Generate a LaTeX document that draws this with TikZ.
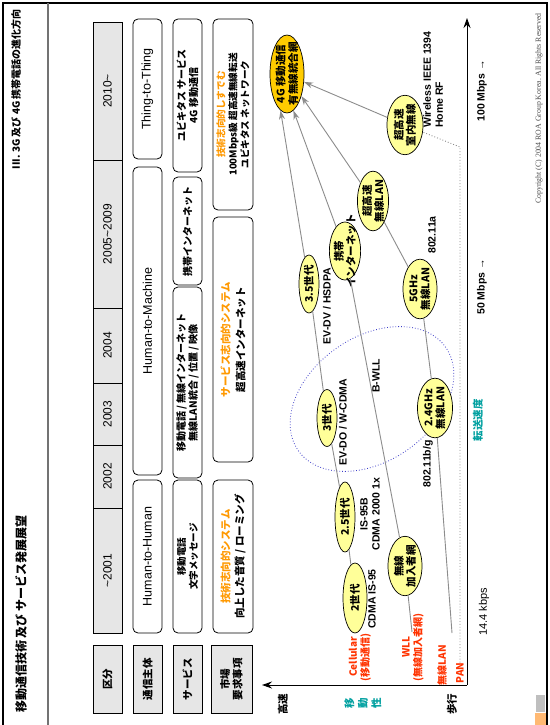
\documentclass[tikz,border=0pt]{standalone}
\usepackage{fontspec}
\setmainfont{Liberation Sans}
\newfontfamily\jp{Noto Sans CJK JP}
\newfontfamily\serifcr{Liberation Serif}
\usetikzlibrary{shapes.geometric,arrows.meta}

\definecolor{hdrgray}{HTML}{E6E6E6}
\definecolor{genyellow}{HTML}{FFFF99}
\definecolor{gold}{HTML}{FFCC00}
\definecolor{linkgray}{HTML}{8C8C8C}
\definecolor{netred}{HTML}{FF3300}
\definecolor{techorange}{HTML}{FF9900}
\definecolor{tealc}{HTML}{00A0A0}
\definecolor{dotblue}{HTML}{3C3CC8}

\newcommand\fsz[2]{\fontsize{#1pt}{#2pt}\selectfont}

\tikzset{
  hdr/.style={draw, line width=0.8pt, fill=hdrgray, rotate=90, inner sep=0pt, align=center,
    font=\jp\bfseries\fsz{10.5}{12.5}},
  yearcell/.style={draw, line width=0.8pt, fill=hdrgray, rotate=90, inner sep=0pt,
    minimum height=29pt, font=\fsz{12}{14}},
  cell/.style={draw, line width=0.8pt, rounded corners=5pt, fill=white, rotate=90,
    inner sep=0pt, align=center},
  gen/.style={draw, line width=0.7pt, ellipse, fill=genyellow, rotate=90, inner sep=0pt,
    align=center, font=\jp\bfseries\fsz{10.5}{12}},
  link/.style={draw=linkgray, line width=0.9pt},
  tip/.style={-{Stealth[length=9pt,width=6pt]}},
  lbl/.style={rotate=90, inner sep=0pt, align=center, font=\bfseries\fsz{10.5}{12}},
  netlbl/.style={rotate=90, inner sep=0pt, align=center, text=netred,
    font=\jp\bfseries\fsz{10}{12}},
  axislbl/.style={rotate=90, inner sep=0pt, align=center, font=\jp\bfseries\fsz{10.5}{13}},
  speed/.style={rotate=90, inner sep=0pt, font=\fsz{11}{13}},
}

\begin{document}
\begin{tikzpicture}[x=1pt,y=-1pt]
\useasboundingbox (0,0) rectangle (549,725);
\fill[white] (0,0) rectangle (549,725);

% page frame and title band
\draw[line width=2.5pt] (3,725) -- (3,3) -- (547,3) -- (547,725);
\draw[black!55, line width=1.2pt] (48,3) -- (48,725);

\node[rotate=90, anchor=east, inner sep=0pt, font=\jp\bfseries\fsz{10}{12}] (title3g) at (16,9)
  {III. 3G 及び 4G 携帯電話の進化方向};
\node[rotate=90, anchor=west, inner sep=0pt, font=\jp\bfseries\fsz{12}{14}] (titlemain) at (21,713)
  {移動通信技術 及び サービス発展展望};

% row headers
\node[hdr, minimum width=68pt, minimum height=29pt] (hkubun) at (107.5,679) {区分};
\node[hdr, minimum width=68pt, minimum height=29pt] (hsubj) at (147.5,679) {通信主体};
\node[hdr, minimum width=68pt, minimum height=29pt] (hserv) at (187.5,679) {サービス};
\node[hdr, minimum width=68pt, minimum height=41pt] (hmkt) at (231.5,679) {市場\\要求事項};

% period cells
\node[yearcell, minimum width=125pt] (y2001) at (107.5,570.5) {\textasciitilde2001};
\node[yearcell, minimum width=63pt] (y2002) at (107.5,476.5) {2002};
\node[yearcell, minimum width=62pt] (y2003) at (107.5,414) {2003};
\node[yearcell, minimum width=75pt] (y2004) at (107.5,345.5) {2004};
\node[yearcell, minimum width=148pt] (y2005) at (107.5,234) {2005\textasciitilde2009};
\node[yearcell, minimum width=138pt] (y2010) at (107.5,91) {2010\textasciitilde};

% communication subjects
\node[cell, minimum width=153pt, minimum height=29pt, font=\fsz{12.5}{14}] (hh) at (147.5,556.5) {Human-to-Human};
\node[cell, minimum width=308pt, minimum height=29pt, font=\fsz{12.5}{14}] (hm) at (147.5,321) {Human-to-Machine};
\node[cell, minimum width=140pt, minimum height=29pt, font=\fsz{12.5}{14}] (tt) at (147.5,89) {Thing-to-Thing};

% services
\node[cell, minimum width=153pt, minimum height=29pt, font=\jp\bfseries\fsz{9.5}{12}] (s1) at (187.5,556.5)
  {移動電話\\文字メッセージ};
\node[cell, minimum width=191pt, minimum height=29pt, font=\jp\bfseries\fsz{10}{12}] (s2) at (187.5,382.5)
  {移動電話 / 無線インターネット\\無線LAN統合 / 位置 / 映像};
\node[cell, minimum width=108pt, minimum height=29pt, font=\jp\bfseries\fsz{10}{12}] (s3) at (187.5,231)
  {携帯インターネット};
\node[cell, minimum width=153pt, minimum height=29pt, font=\jp\bfseries\fsz{10}{12}] (s4) at (187.5,95.5)
  {ユビキタス\ サービス\\4G 移動通信};

% market requirements
\node[cell, minimum width=153pt, minimum height=40pt, font=\jp\bfseries\fsz{10.5}{14}] (m1) at (233,556.5)
  {\textcolor{techorange}{技術志向的システム}\\向上した音質 / ローミング};
\node[cell, minimum width=245pt, minimum height=40pt, font=\jp\bfseries\fsz{10.5}{15}] (m2) at (233,339.5)
  {\textcolor{techorange}{サービス志向的システム}\\超高速インターネット};
\node[cell, minimum width=191pt, minimum height=40pt, font=\jp\bfseries\fsz{9.6}{12}] (m3) at (233,114.5)
  {\textcolor{techorange}{技術志向的しすでむ}\\100Mbps級 超高速無線転送\\ユビキタス\ ネットワーク};

% axes
\coordinate (origin) at (467,685);
\coordinate (vtop) at (467,18);
\coordinate (hleft) at (262,685);
\draw[line width=1pt, -{Stealth[length=10pt,width=7pt]}] (origin) -- (vtop);
\draw[line width=1pt, -{Stealth[length=10pt,width=7pt]}] (origin) -- (hleft);

\node[axislbl] (fast) at (283,704) {高速};
\node[axislbl, text=tealc, font=\jp\bfseries\fsz{10.5}{13.5}] (mobility) at (363,703) {移\\動\\性};
\node[axislbl] (walk) at (452,704) {歩行};
\node[axislbl, text=tealc] (rate) at (478,420) {転送速度};
\node[speed] (k144) at (484,612) {14.4 kbps};
\node[speed, font=\bfseries\fsz{10.5}{13}] (m50) at (482,287) {50 Mbps →};
\node[speed, font=\bfseries\fsz{10.5}{13}] (m100) at (482,91) {100 Mbps →};

% generation range ring
\node[draw=dotblue, dotted, line width=0.8pt, ellipse, rotate=35, minimum width=180pt,
  minimum height=124pt] (ring) at (372,399) {};

% technology nodes
\node[gen, fill=gold, minimum width=78pt, minimum height=34pt, font=\jp\bfseries\fsz{10.5}{12.5}] (g4) at (287,74)
  {\makebox[0pt]{4G 移動通信}\\\makebox[0pt]{有無線統合網}};
\node[gen, minimum width=58pt, minimum height=20pt] (n35) at (309,284) {3.5世代};
\node[gen, minimum width=57pt, minimum height=20pt] (n3) at (327,418) {3世代};
\node[gen, minimum width=70pt, minimum height=20pt] (n25) at (345,517) {2.5世代};
\node[gen, minimum width=70pt, minimum height=24pt] (n2) at (355,598) {2世代};
\node[gen, minimum width=58pt, minimum height=34pt] (nwll) at (405,566) {無線\\加入者網};
\node[gen, minimum width=58pt, minimum height=26pt] (nmob) at (345,251) {携帯\\\makebox[0pt]{インターネット}};
\node[gen, minimum width=58pt, minimum height=27pt] (nfwlan) at (373,201) {超高速\\無線LAN};
\node[gen, minimum width=58pt, minimum height=34pt] (n5g) at (420,289) {5GHz\\無線LAN};
\node[gen, minimum width=59pt, minimum height=35pt] (n24) at (435,408) {2.4GHz\\無線LAN};
\node[gen, minimum width=56pt, minimum height=36pt] (nindoor) at (405,125) {超高速\\室内無線};

% standards beside the paths
\node[lbl] (evdv) at (327,306) {EV-DV / HSDPA};
\node[lbl] (evdo) at (343,422) {EV-DO / W-CDMA};
\node[lbl] (bwll) at (376,376) {B-WLL};
\node[lbl] (is95b) at (370,514) {IS-95B\\CDMA 2000 1x};
\node[lbl] (is95) at (372,599) {CDMA IS-95};
\node[lbl] (wbg) at (428,464) {802.11b/g};
\node[lbl] (wa) at (432,235) {802.11a};
\node[lbl, anchor=west, align=left] (w1394) at (433,128) {Wireless IEEE 1394\\Home RF};

% network families
\node[netlbl] (lcell) at (360,657) {Cellular\\(移動通信)};
\node[netlbl] (lwll) at (413,647) {WLL\\(無線加入者網)};
\node[netlbl] (lwlan) at (442,665) {無線LAN};
\node[netlbl] (lpan) at (460,673) {PAN};

% evolution paths
\draw[link] (n2) -- (n25);
\draw[link] (n25) -- (n3);
\draw[link] (n3) -- (n35);
\draw[link, tip] (n35) -- (g4.170);

\coordinate (wllstart) at (412,632);
\draw[link] (wllstart) -- (nwll);
\draw[link] (nwll) -- (nmob);
\draw[link, tip] (nmob) -- (g4.190);

\coordinate (wlanstart) at (452,633);
\draw[link] (wlanstart) -- (n24);
\draw[link] (n24) -- (n5g);
\draw[link] (n5g) -- (nfwlan);
\draw[link, tip] (nfwlan) -- (g4.213);

\coordinate (pancorner) at (460,147);
\draw[link, dotted] (lpan) -- (pancorner) -- (nindoor);
\draw[link, tip] (nindoor) -- (g4.245);

% footer
\node[rotate=90, anchor=west, inner sep=0pt, font=\serifcr\fsz{7.8}{9}, text=black!70] (copy) at (539,204)
  {Copyright (C) 2004 ROA Group Korea. All Rights Reserved};
\fill[black!25] (536,695) rectangle (545,712);
\fill[orange!55] (535,713) rectangle (546,725);
\end{tikzpicture}
\end{document}
